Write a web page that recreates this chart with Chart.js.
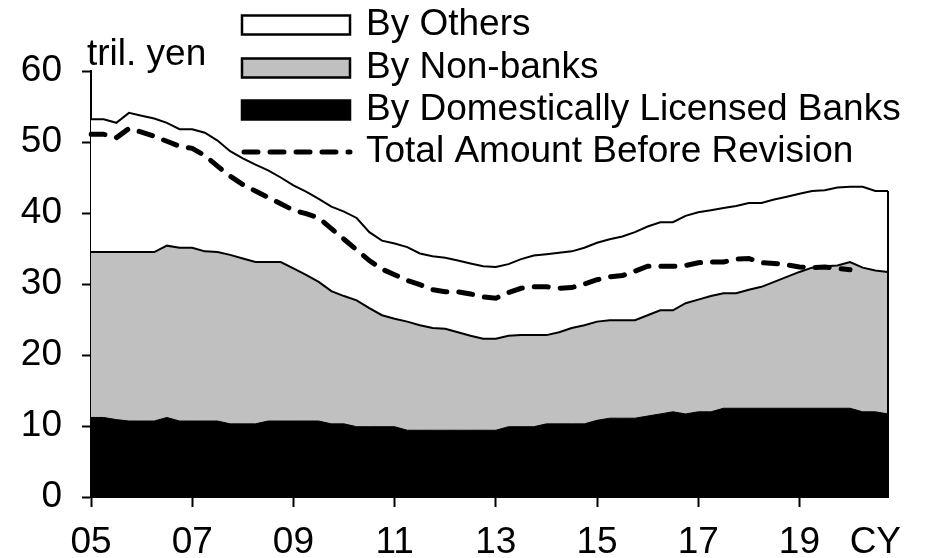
<!DOCTYPE html>
<html>
<head>
<meta charset="utf-8">
<script src="https://cdn.jsdelivr.net/npm/chart.js@4.4.1/dist/chart.umd.min.js"></script>
<style>
html,body{margin:0;padding:0;background:#fff;}
#wrap{width:925px;height:558px;position:relative;}
</style>
</head>
<body>
<div id="wrap"><canvas id="c" width="925" height="558"></canvas></div>
<script>
// Quarterly categories, 2005Q1 - 2020Q4
const quarters = [
 "05Q1","05Q2","05Q3","05Q4","06Q1","06Q2","06Q3","06Q4",
 "07Q1","07Q2","07Q3","07Q4","08Q1","08Q2","08Q3","08Q4",
 "09Q1","09Q2","09Q3","09Q4","10Q1","10Q2","10Q3","10Q4",
 "11Q1","11Q2","11Q3","11Q4","12Q1","12Q2","12Q3","12Q4",
 "13Q1","13Q2","13Q3","13Q4","14Q1","14Q2","14Q3","14Q4",
 "15Q1","15Q2","15Q3","15Q4","16Q1","16Q2","16Q3","16Q4",
 "17Q1","17Q2","17Q3","17Q4","18Q1","18Q2","18Q3","18Q4",
 "19Q1","19Q2","19Q3","19Q4","20Q1","20Q2","20Q3","20Q4"
];
const yearTickLabels = ["05","07","09","11","13","15","17","19"];
const unitLabel = "CY";
const yTickValues = [0,10,20,30,40,50,60];

// tril. yen
const byBanks = [
 11.2,11.2,10.9,10.7,10.7,10.7,11.2,10.7,10.7,10.7,10.7,10.3,10.3,10.3,10.7,10.7,
 10.7,10.7,10.7,10.3,10.3,9.9,9.9,9.9,9.9,9.4,9.4,9.4,9.4,9.4,9.4,9.4,
 9.4,9.9,9.9,9.9,10.3,10.3,10.3,10.3,10.8,11.1,11.1,11.1,11.4,11.7,12.0,11.7,
 12.0,12.0,12.5,12.5,12.5,12.5,12.5,12.5,12.5,12.5,12.5,12.5,12.5,12.0,12.0,11.7
];
const byNonBanks = [
 23.3,23.3,23.6,23.8,23.8,23.8,24.2,24.4,24.4,23.9,23.8,23.8,23.3,22.8,22.4,22.4,
 21.5,20.6,19.6,18.7,18.0,17.8,16.7,15.7,15.2,15.3,14.8,14.4,14.3,13.8,13.3,12.9,
 12.9,12.8,12.9,12.9,12.5,12.9,13.5,13.9,13.9,13.8,13.8,13.8,14.2,14.6,14.3,15.6,
 15.8,16.3,16.2,16.2,16.7,17.1,17.8,18.5,19.2,19.8,20.0,20.1,20.6,20.3,19.9,20.0
];
const byOthers = [
 18.7,18.7,18.2,19.6,19.2,18.8,17.3,16.7,16.7,16.7,15.7,14.6,14.1,13.7,12.9,11.9,
 11.7,11.7,11.7,11.9,11.9,11.6,10.7,10.5,10.6,10.5,10.1,10.1,10.0,10.1,10.2,10.2,
 10.1,10.1,10.7,11.2,11.4,11.2,10.8,10.9,11.1,11.4,11.8,12.4,12.5,12.4,12.4,12.3,
 12.3,12.1,12.0,12.3,12.2,11.8,11.6,11.3,11.0,10.8,10.7,11.0,10.6,11.4,11.2,11.4
];
const totalBeforeRevision = [
 51.1,51.1,50.6,51.9,51.4,50.8,50.1,49.4,49.1,48.1,46.6,45.2,44.0,43.1,42.2,41.3,
 40.4,39.9,39.3,37.8,36.3,34.8,33.3,32.1,31.3,30.5,29.9,29.2,28.9,28.9,28.6,28.2,
 28.0,28.8,29.4,29.6,29.6,29.4,29.5,30.0,30.6,31.0,31.2,31.8,32.5,32.5,32.5,32.6,
 33.0,33.1,33.1,33.5,33.6,33.0,32.9,32.7,32.4,32.3,32.4,32.2,32.0
];

const seriesNames = ["By Others","By Non-banks","By Domestically Licensed Banks","Total Amount Before Revision"];
const unitText = "tril. yen";

const FONT = "'Liberation Sans', Arial, sans-serif";
const FS = 37;
const GRAY = "#c0c0c0";

const overlayPlugin = {
  id: 'overlay',
  afterDatasetsDraw(chart) {
    // right-hand closing edge of the stacked area
    const ctx = chart.ctx;
    const meta = chart.getDatasetMeta(3);
    const last = meta.data[meta.data.length - 1];
    const y0 = chart.scales.y.getPixelForValue(0);
    ctx.save();
    ctx.strokeStyle = '#000';
    ctx.lineWidth = 2;
    ctx.beginPath();
    ctx.moveTo(last.x, last.y);
    ctx.lineTo(last.x, y0);
    ctx.stroke();
    ctx.restore();
  },
  afterDraw(chart) {
    const ctx = chart.ctx;
    ctx.save();
    ctx.fillStyle = '#000';
    ctx.font = FS + 'px ' + FONT;
    ctx.textAlign = 'left';
    ctx.textBaseline = 'alphabetic';
    ctx.fillText(unitText, 87, 65);

    const bx = 242, bw = 108, bh = 19, tx = 366;
    const rows = [25, 68, 110, 152];
    const fills = ['#ffffff', GRAY, '#000000'];
    for (let i = 0; i < 3; i++) {
      ctx.fillStyle = fills[i];
      ctx.fillRect(bx, rows[i] - bh/2, bw, bh);
      ctx.strokeStyle = '#000';
      ctx.lineWidth = 2.5;
      ctx.strokeRect(bx, rows[i] - bh/2, bw, bh);
    }
    ctx.beginPath();
    ctx.setLineDash([14, 12]);
    ctx.lineCap = 'round';
    ctx.lineWidth = 5;
    ctx.moveTo(bx + 2, rows[3]);
    ctx.lineTo(bx + bw, rows[3]);
    ctx.stroke();
    ctx.setLineDash([]);
    ctx.fillStyle = '#000';
    ctx.textBaseline = 'middle';
    for (let i = 0; i < 4; i++) ctx.fillText(seriesNames[i], tx, rows[i]);
    ctx.restore();
  }
};

new Chart(document.getElementById('c'), {
  type: 'line',
  data: {
    labels: quarters,
    datasets: [
      { label: seriesNames[3], data: totalBeforeRevision, stack: 'before',
        borderColor: '#000', borderWidth: 5, borderDash: [14, 12], borderCapStyle: 'round',
        fill: false, pointRadius: 0, tension: 0 },
      { label: seriesNames[2], data: byBanks, stack: 'outstanding',
        borderColor: '#000', backgroundColor: '#000', borderWidth: 1,
        fill: 'origin', pointRadius: 0, tension: 0 },
      { label: seriesNames[1], data: byNonBanks, stack: 'outstanding',
        borderColor: '#000', backgroundColor: GRAY, borderWidth: 2,
        fill: '-1', pointRadius: 0, tension: 0 },
      { label: seriesNames[0], data: byOthers, stack: 'outstanding',
        borderColor: '#000', backgroundColor: '#ffffff', borderWidth: 2,
        fill: '-1', pointRadius: 0, tension: 0 }
    ]
  },
  options: {
    responsive: false,
    animation: false,
    devicePixelRatio: 1,
    layout: { padding: { top: 71, right: 37, left: 0, bottom: 0 } },
    plugins: { legend: { display: false }, tooltip: { enabled: false } },
    scales: {
      x: {
        type: 'category',
        offset: false,
        ticks: {
          autoSkip: false, maxRotation: 0, minRotation: 0, padding: 14,
          color: '#000', font: { family: FONT, size: FS },
          callback: function(v, i) {
            if (i % 8 === 0 && i / 8 < yearTickLabels.length) return yearTickLabels[i / 8];
            if (i === 62) return unitLabel;
            return '';
          }
        },
        grid: {
          drawOnChartArea: false, drawTicks: true, tickLength: 10, tickWidth: 2,
          tickColor: (c) => (c.index % 8 === 0 && c.index / 8 < yearTickLabels.length) ? '#000' : 'rgba(0,0,0,0)'
        },
        border: { color: '#000', width: 2 },
        afterFit(s) { s.height = 61; }
      },
      y: {
        stacked: true,
        min: 0, max: 60,
        afterBuildTicks(s) { s.ticks = yTickValues.map(v => ({ value: v })); },
        ticks: { stepSize: 10, padding: 20, color: '#000', font: { family: FONT, size: FS } },
        grid: { drawOnChartArea: false, drawTicks: true, tickLength: 9, tickWidth: 2, tickColor: '#000' },
        border: { color: '#000', width: 2 },
        afterFit(s) { s.width = 91; }
      }
    }
  },
  plugins: [overlayPlugin]
});
</script>
</body>
</html>
